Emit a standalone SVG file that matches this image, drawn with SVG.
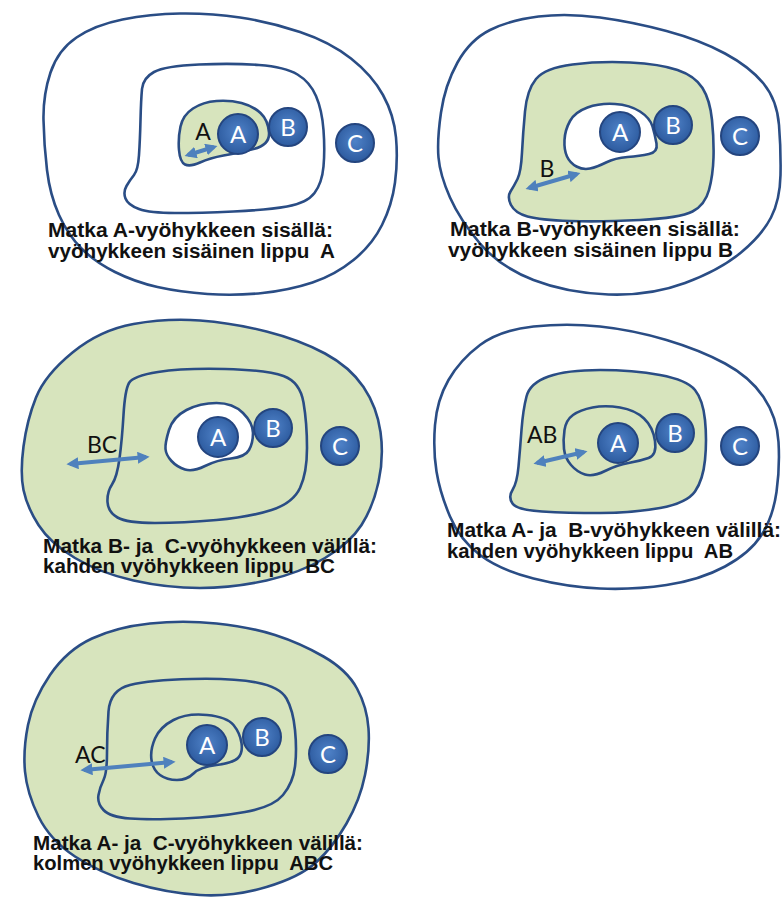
<svg xmlns="http://www.w3.org/2000/svg" width="782" height="903" viewBox="0 0 782 903">
<defs>
<style>
.zone{stroke:#2a4d85;stroke-width:2.6;stroke-linejoin:round}
.g{fill:#d7e4bd}
.w{fill:#ffffff}
.stop circle{fill:url(#cg);stroke:#24457f;stroke-width:2}
.cl{font-family:Lato,"Open Sans","Liberation Sans",sans-serif;font-size:24px;fill:#ffffff;text-anchor:middle}
.lbl{font-family:Lato,"Open Sans","Liberation Sans",sans-serif;font-size:23px;fill:#111111}
.cap{font-family:"Liberation Sans",Arial,sans-serif;font-weight:bold;font-size:20px;fill:#111111}
.arr{stroke:#4f81bd;stroke-width:4;fill:none;marker-start:url(#ah);marker-end:url(#ah)}
</style>
<radialGradient id="cg" cx="50%" cy="45%" r="55%">
<stop offset="0" stop-color="#4f82c8"/>
<stop offset="1" stop-color="#2d5b9f"/>
</radialGradient>
<marker id="ah" markerUnits="userSpaceOnUse" markerWidth="12" markerHeight="12" viewBox="0 0 10 10" refX="7" refY="5" orient="auto-start-reverse">
<path d="M0,0 L10,5 L0,10 z" fill="#4f81bd"/>
</marker>
</defs>
<rect width="782" height="903" fill="#ffffff"/>

<g id="panel-1">
<path class="zone w" d="M43.5,120 Q43,95 50.5,72.5 Q58,50 76.5,37.5 Q95,25 122.5,19.5 Q150,14 180,13.5 Q210,13 240,17.5 Q270,22 300,32 Q330,42 351,58.5 Q372,75 383,95 Q394,115 396,137.5 Q398,160 395,182.5 Q392,205 382,225 Q372,245 353.5,260 Q335,275 312.5,282.5 Q290,290 262.5,293 Q235,296 207.5,294 Q180,292 157.5,287 Q135,282 115,272 Q95,262 81.5,248.5 Q68,235 59,215 Q50,195 47,170 Q44,145 43.5,120 Z"/>
<path class="zone w" d="M140.5,120 Q141,100 142,89 Q143,78 154,72 Q165,66 199,64.5 Q233,63 259,65 Q285,67 297.5,74.5 Q310,82 316,96 Q322,110 323.5,130 Q325,150 323.5,166.5 Q322,183 314.5,193 Q307,203 287,206.5 Q267,210 233.5,211.5 Q200,213 175,213 Q150,213 139,209 Q128,205 125.5,198.5 Q123,192 126.5,186 Q130,180 134,175 Q138,170 139,155 Q140,140 140.5,120 Z"/>
<path class="zone g" d="M179,150 Q178,138 180.5,126.5 Q183,115 193,108.5 Q203,102 216.5,101 Q230,100 241.5,103 Q253,106 260.5,113 Q268,120 269,132.5 Q270,145 253.5,149 Q237,153 223.5,155.5 Q210,158 200,162.5 Q190,167 185,164.5 Q180,162 179,150 Z"/>
<g class="stop"><circle cx="238" cy="134" r="20"/><circle cx="288" cy="127" r="19"/><circle cx="355" cy="143" r="19"/></g>
<text class="cl" x="238" y="143">A</text><text class="cl" x="288" y="136">B</text><text class="cl" x="355" y="152">C</text>
<text class="lbl" x="203" y="140" text-anchor="middle">A</text>
<text class="cap" x="48" y="237" textLength="285" lengthAdjust="spacingAndGlyphs">Matka A-vyöhykkeen sisällä:</text>
<text class="cap" x="48" y="258" textLength="287" lengthAdjust="spacingAndGlyphs" xml:space="preserve">vyöhykkeen sisäinen lippu  A</text>
</g>

<g id="panel-2">
<path class="zone w" d="M450,197.5 Q440,175 438.5,157.5 Q437,140 441,112.5 Q445,85 457.5,62.5 Q470,40 490,30 Q510,20 538.5,16.5 Q567,13 600,17.5 Q633,22 666.5,31 Q700,40 725,53.5 Q750,67 763.5,83.5 Q777,100 779,125 Q781,150 780.5,175 Q780,200 771,217.5 Q762,235 741,252.5 Q720,270 685,283 Q650,296 608.5,294.5 Q567,293 533.5,280 Q500,267 480,243.5 Q460,220 450,197.5 Z"/>
<path class="zone g" d="M522,152.5 Q523,133 525,111.5 Q527,90 536,79 Q545,68 572.5,64.5 Q600,61 630,62.5 Q660,64 677.5,70 Q695,76 702.5,88 Q710,100 712,120 Q714,140 713.5,157.5 Q713,175 709,190 Q705,205 692.5,211.5 Q680,218 640,220 Q600,222 570,221 Q540,220 527.5,216.5 Q515,213 511,205 Q507,197 510.5,191.5 Q514,186 517.5,179 Q521,172 522,152.5 Z"/>
<path class="zone w" d="M567,156.5 Q564,150 564.5,140 Q565,130 570,121 Q575,112 587.5,107.5 Q600,103 615,104 Q630,105 640,111.5 Q650,118 652.5,126.5 Q655,135 656.5,143.5 Q658,152 649,154 Q640,156 627.5,157 Q615,158 606,162.5 Q597,167 590,168.5 Q583,170 576.5,166.5 Q570,163 567,156.5 Z"/>
<g class="stop"><circle cx="620" cy="132" r="20"/><circle cx="673" cy="125" r="19"/><circle cx="740" cy="136" r="19"/></g>
<text class="cl" x="620" y="141">A</text><text class="cl" x="673" y="134">B</text><text class="cl" x="740" y="145">C</text>
<text class="lbl" x="547" y="177" text-anchor="middle">B</text>
<text class="cap" x="450" y="236" textLength="290" lengthAdjust="spacingAndGlyphs">Matka B-vyöhykkeen sisällä:</text>
<text class="cap" x="448" y="257" textLength="285" lengthAdjust="spacingAndGlyphs">vyöhykkeen sisäinen lippu B</text>
</g>

<g id="panel-3">
<path class="zone g" d="M23.5,490 Q20,473 23.5,446.5 Q27,420 36,397.5 Q45,375 72.5,352.5 Q100,330 133.5,324 Q167,318 200,320.5 Q233,323 266.5,331.5 Q300,340 325,353.5 Q350,367 363.5,387 Q377,407 380.5,432 Q384,457 378.5,482 Q373,507 361.5,525 Q350,543 325,558 Q300,573 266.5,580.5 Q233,588 200,588 Q167,588 133.5,580.5 Q100,573 75,558 Q50,543 38.5,525 Q27,507 23.5,490 Z"/>
<path class="zone g" d="M119.5,458.5 Q122,440 123.5,415 Q125,390 129,383 Q133,376 158,372 Q183,368 225,369 Q267,370 283.5,376 Q300,382 303.5,402.5 Q307,423 307,448 Q307,473 300,488 Q293,503 271.5,510 Q250,517 216.5,520 Q183,523 155,523 Q127,523 117.5,517.5 Q108,512 107.5,502 Q107,492 112,484.5 Q117,477 119.5,458.5 Z"/>
<path class="zone w" d="M165.5,449 Q165,443 169,430 Q173,417 186.5,410 Q200,403 216.5,403 Q233,403 243,413 Q253,423 253,433 Q253,443 249,450 Q245,457 231,458.5 Q217,460 205,466 Q193,472 185,469.5 Q177,467 171.5,461 Q166,455 165.5,449 Z"/>
<g class="stop"><circle cx="218" cy="437" r="20"/><circle cx="273" cy="428" r="19"/><circle cx="340" cy="446" r="19"/></g>
<text class="cl" x="218" y="446">A</text><text class="cl" x="273" y="437">B</text><text class="cl" x="340" y="455">C</text>
<text class="lbl" x="87" y="453">BC</text>
<text class="cap" x="43" y="553" textLength="334" lengthAdjust="spacingAndGlyphs" xml:space="preserve">Matka B- ja  C-vyöhykkeen välillä:</text>
<text class="cap" x="43" y="573" textLength="292" lengthAdjust="spacingAndGlyphs" xml:space="preserve">kahden vyöhykkeen lippu  BC</text>
</g>

<g id="panel-4">
<path class="zone w" d="M436.5,471.5 Q433,450 435,425 Q437,400 448.5,380 Q460,360 480,345 Q500,330 533.5,326.5 Q567,323 600,326.5 Q633,330 666.5,340 Q700,350 725,363.5 Q750,377 763.5,397 Q777,417 778.5,442 Q780,467 776.5,492 Q773,517 761.5,535 Q750,553 725,566.5 Q700,580 666.5,585 Q633,590 600,588.5 Q567,587 533.5,578.5 Q500,570 480,555 Q460,540 450,516.5 Q440,493 436.5,471.5 Z"/>
<path class="zone g" d="M518.5,466.5 Q520,450 521.5,430 Q523,410 526.5,396.5 Q530,383 548.5,376.5 Q567,370 600,370 Q633,370 660,375 Q687,380 695,390 Q703,400 705,420 Q707,440 705,460 Q703,480 695,491.5 Q687,503 660,508 Q633,513 600,513 Q567,513 542,511.5 Q517,510 512.5,503.5 Q508,497 512.5,490 Q517,483 518.5,466.5 Z"/>
<path class="zone g" d="M564,449 Q563,440 564.5,430 Q566,420 573,415 Q580,410 592.5,407.5 Q605,405 620,407.5 Q635,410 644,418.5 Q653,427 655,441 Q657,455 648.5,458 Q640,461 628.5,463 Q617,465 605,471 Q593,477 585,474.5 Q577,472 571,465 Q565,458 564,449 Z"/>
<g class="stop"><circle cx="618" cy="443" r="20"/><circle cx="675" cy="433" r="19"/><circle cx="740" cy="446" r="19"/></g>
<text class="cl" x="618" y="452">A</text><text class="cl" x="675" y="442">B</text><text class="cl" x="740" y="455">C</text>
<text class="lbl" x="527" y="443">AB</text>
<text class="cap" x="447" y="537" textLength="334" lengthAdjust="spacingAndGlyphs" xml:space="preserve">Matka A- ja  B-vyöhykkeen välillä:</text>
<text class="cap" x="447" y="558" textLength="286" lengthAdjust="spacingAndGlyphs" xml:space="preserve">kahden vyöhykkeen lippu  AB</text>
</g>

<g id="panel-5">
<path class="zone g" d="M25,771.5 Q23,750 28,725 Q33,700 50,675 Q67,650 92,638.5 Q117,627 150,623.5 Q183,620 216.5,623.5 Q250,627 275,635 Q300,643 323.5,656.5 Q347,670 357,688.5 Q367,707 368.5,728.5 Q370,750 365,775 Q360,800 346.5,823.5 Q333,847 316.5,862 Q300,877 266.5,887 Q233,897 200,895 Q167,893 133.5,883 Q100,873 75,856.5 Q50,840 38.5,816.5 Q27,793 25,771.5 Z"/>
<path class="zone g" d="M107,753 Q107,733 108.5,711.5 Q110,690 130,685 Q150,680 191.5,679 Q233,678 256.5,682.5 Q280,687 286.5,698.5 Q293,710 295,730 Q297,750 295,766.5 Q293,783 283,795 Q273,807 245,812 Q217,817 183.5,818.5 Q150,820 130,818.5 Q110,817 103.5,810 Q97,803 98.5,795 Q100,787 103.5,780 Q107,773 107,753 Z"/>
<path class="zone g" d="M151.5,760 Q150,750 155,738.5 Q160,727 173.5,720 Q187,713 207,715 Q227,717 233.5,725 Q240,733 241.5,743 Q243,753 238,758 Q233,763 216.5,765 Q200,767 193.5,773.5 Q187,780 177,780 Q167,780 160,775 Q153,770 151.5,760 Z"/>
<g class="stop"><circle cx="207" cy="745" r="20"/><circle cx="262" cy="737" r="19"/><circle cx="328" cy="754" r="19"/></g>
<text class="cl" x="207" y="754">A</text><text class="cl" x="262" y="746">B</text><text class="cl" x="328" y="763">C</text>
<text class="lbl" x="75" y="763">AC</text>
<text class="cap" x="33" y="850" textLength="330" lengthAdjust="spacingAndGlyphs" xml:space="preserve">Matka A- ja  C-vyöhykkeen välillä:</text>
<text class="cap" x="33" y="870" textLength="300" lengthAdjust="spacingAndGlyphs" xml:space="preserve">kolmen vyöhykkeen lippu  ABC</text>
</g>

<g id="connectors">
<path class="arr" d="M188,155 L214,147"/>
<path class="arr" d="M529,188 L577,174"/>
<path class="arr" d="M70,464 L146,457"/>
<path class="arr" d="M537,463 L584,452"/>
<path class="arr" d="M84,770 L172,762"/>
</g>
</svg>
